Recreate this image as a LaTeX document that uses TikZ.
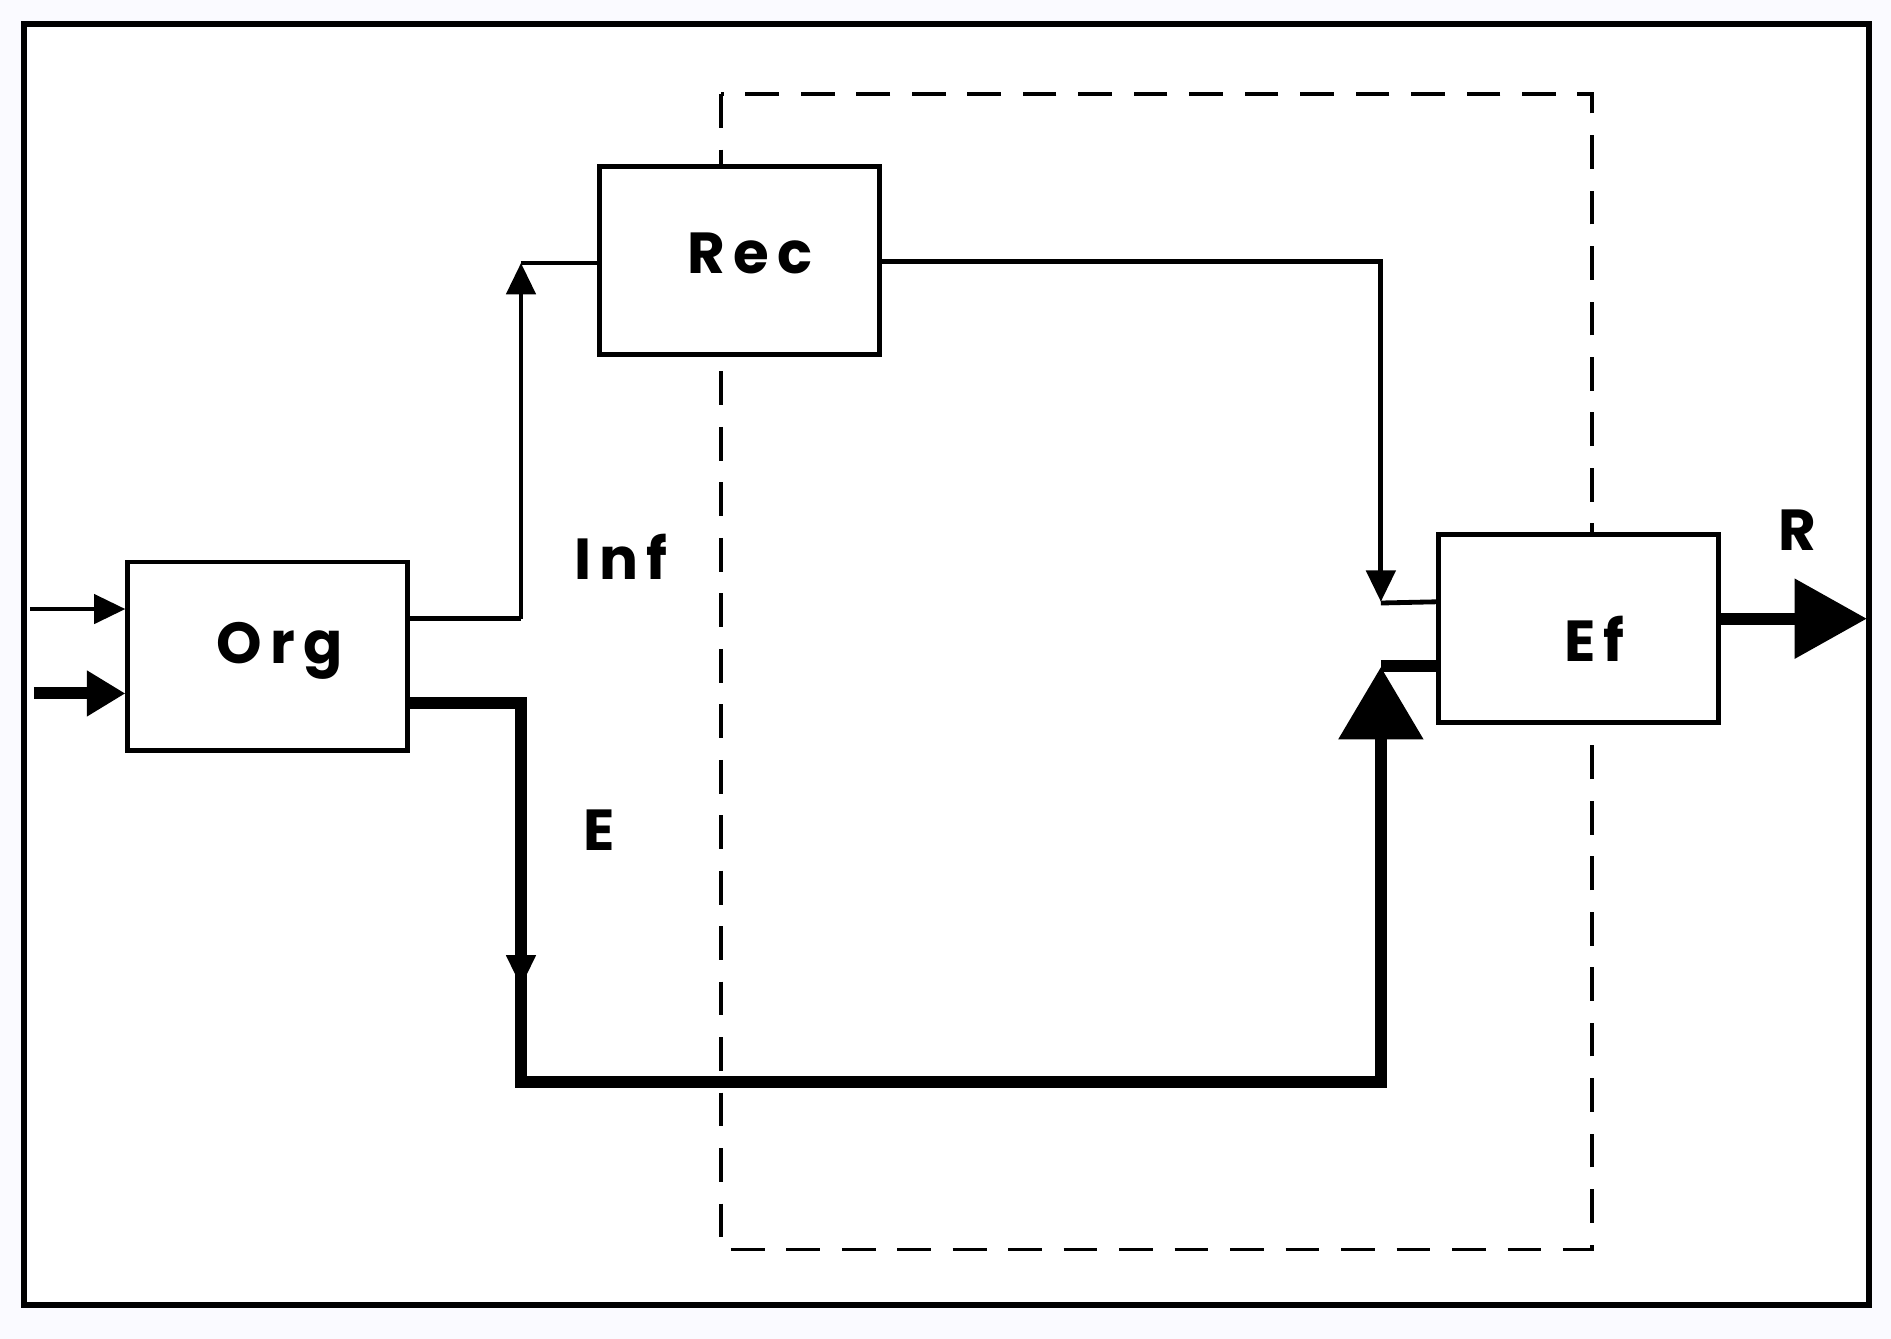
\documentclass[tikz,border=0pt]{standalone}
\usepackage{fontspec}
\setmainfont{Poppins}[LetterSpace=14]
\usetikzlibrary{arrows.meta}
\begin{document}
\begin{tikzpicture}[x=0.5pt,y=-0.5pt,
  box/.style={draw,line width=2pt,fill=white,minimum width=116pt,minimum height=78pt,inner sep=0pt},
  lbl/.style={font=\fontsize{24}{30}\selectfont\bfseries},
  thin/.style={line width=2pt},
  thick/.style={line width=5pt},
  ta/.style={-{Triangle[length=13pt,width=12pt]}},
  tb/.style={-{Triangle[length=30pt,width=34pt]}}]
\useasboundingbox (0,0) rectangle (1568,1110);
\fill[white!98!blue] (0,0) rectangle (1568,1110);
\draw[line width=2.5pt,fill=white] (20,20) rectangle (1550,1082);
\draw[line width=1.5pt,dash pattern=on 14pt off 9pt] (598,78) rectangle (1320,1036);
\node[box] (rec) at (613,216) {};
\node[lbl] at (622,210) {Rec};
\node[box] (org) at (222,544) {};
\node[lbl] at (232,540) {Org};
\node[box] (ef) at (1309,521) {};
\node[lbl] at (1322,530) {Ef};
\coordinate (i1) at (25,505);
\coordinate (i2) at (28,575);
\draw[thin,ta] (i1) -- (org.west|-i1);
\draw[thick,-{Triangle[length=16pt,width=18pt]}] (i2) -- (org.west|-i2);
% Inf
\coordinate (a1) at (432,513);
\coordinate (a2) at (432,218);
\draw[thin] (org.east|-a1) -- (a1);
\draw[thin,ta] (a1) -- (a2);
\draw[thin] (a2) -- (rec.west|-a2);
\node[lbl] at (515,462) {Inf};
% Rec to Ef
\coordinate (b1) at (1145,217);
\coordinate (b2) at (1145,499);
\draw[thin,ta] (rec.east|-b1) -- (b1) -- (b2);
\draw[thin] (1145,500) -- (ef.west|-b2);
% E
\coordinate (c1) at (432,583);
\coordinate (c2) at (432,818);
\coordinate (c3) at (432,897);
\coordinate (c4) at (1145,897);
\coordinate (c5) at (1145,553);
\draw[thick] (org.east|-c1) -- (c1) -- (c3) -- (c4) -- (1145,610);
\draw[thin,ta] (c1) -- (c2);
\draw[thick,tb] (1145,620) -- (c5);
\draw[thick] (1145,552) -- (ef.west|-1145,552);
\node[lbl] at (497,688) {E};
% R
\coordinate (r) at (1548,513);
\draw[thick,-{Triangle[length=30pt,width=32pt]}] (ef.east|-r) -- (r);
\node[lbl] at (1490,440) {R};
\end{tikzpicture}
\end{document}
